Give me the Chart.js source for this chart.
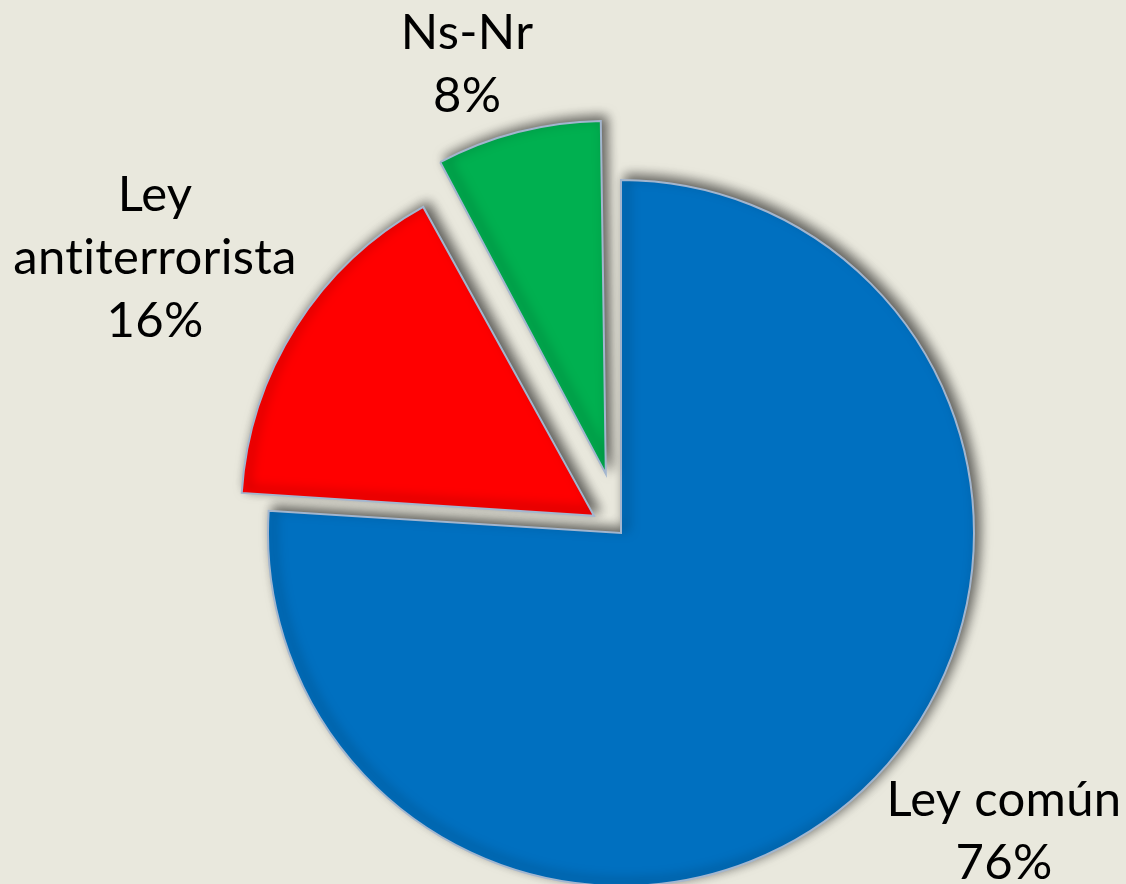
<!DOCTYPE html>
<html>
<head>
<meta charset="utf-8">
<title>Tipo de ley</title>
<script src="https://cdn.jsdelivr.net/npm/chart.js@4/dist/chart.umd.min.js"></script>
<style>
  html, body { margin: 0; padding: 0; background: #e9e8dd; }
  #wrap { width: 1126px; height: 884px; }
</style>
</head>
<body>
<div id="wrap"><canvas id="myChart" width="1126" height="884"></canvas></div>
<script>
// slices, clockwise from 12 o'clock
const categories = ['Ley común', 'Ley antiterrorista', 'Ns-Nr'];
const values = [76, 16, 8];
const sliceColors = ['#0070c0', '#ff0000', '#00b050'];
// chart.js moves an arc by offset/4, so these are 4x the pull-out in px
const explode = [0, 128, 244];

// where each label block sits, as a fraction of the radius from the pie centre
const labelSpots = [
  { fx: 1.085, fy: 0.891 },
  { fx: -1.320, fy: -0.734 },
  { fx: -0.436, fy: -1.283 }
];

const total = values.reduce((a, b) => a + b, 0);

// chart.js also grows exploded arcs a bit; keep every slice the same size
const keepRadius = {
  id: 'keepRadius',
  beforeDatasetsDraw(chart) {
    const meta = chart.getDatasetMeta(0);
    const R = meta.controller.outerRadius;
    meta.data.forEach((arc, i) => {
      const circ = arc.endAngle - arc.startAngle;
      const fix = 1 - Math.sin(Math.min(Math.PI, circ));
      arc.outerRadius = R - (explode[i] / 4) * fix;
    });
  }
};

// soft drop shadow behind the slices (up and to the right, like the original)
const shadowPlugin = {
  id: 'sliceShadow',
  beforeDatasetsDraw(chart) {
    const ctx = chart.ctx;
    ctx.save();
    ctx.shadowColor = 'rgba(0,0,0,0.6)';
    ctx.shadowBlur = 12;
    ctx.shadowOffsetX = 5;
    ctx.shadowOffsetY = -4;
  },
  afterDatasetsDraw(chart) {
    chart.ctx.restore();
  }
};

// category + percent written next to each slice, wrapped like powerpoint does
const labelPlugin = {
  id: 'sliceLabels',
  afterDraw(chart) {
    const ctx = chart.ctx;
    const meta = chart.getDatasetMeta(0);
    const r = meta.controller.outerRadius;
    ctx.save();
    ctx.font = '49px Lato';
    if ('letterSpacing' in ctx) ctx.letterSpacing = '0.3px';
    if ('textRendering' in ctx) ctx.textRendering = 'optimizeSpeed';
    ctx.fillStyle = '#000000';
    ctx.textAlign = 'center';
    ctx.textBaseline = 'alphabetic';
    const lineH = 63;
    meta.data.forEach((arc, i) => {
      const words = categories[i].split(' ');
      const lines = [];
      let cur = '';
      words.forEach(w => {
        const test = cur ? cur + ' ' + w : w;
        if (cur && ctx.measureText(test).width > 320) {
          lines.push(cur);
          cur = w;
        } else {
          cur = test;
        }
      });
      lines.push(cur);
      lines.push(Math.round(values[i] / total * 100) + '%');

      const cx = arc.x + labelSpots[i].fx * r;
      const cy = arc.y + labelSpots[i].fy * r;
      const first = cy - (lines.length - 1) / 2 * lineH;
      lines.forEach((t, k) => ctx.fillText(t, cx, first + k * lineH));
    });
    ctx.restore();
  }
};

const ctx = document.getElementById('myChart').getContext('2d');
const myChart = new Chart(ctx, {
  type: 'pie',
  data: {
    labels: categories,
    datasets: [{
      data: values,
      backgroundColor: sliceColors,
      borderColor: '#a3b6cf',
      borderWidth: 2,
      borderJoinStyle: 'miter',
      offset: explode,
      clip: false
    }]
  },
  options: {
    responsive: false,
    animation: false,
    events: [],
    radius: 353,
    layout: { padding: { left: 116, right: 0, top: 182, bottom: 0 } },
    plugins: {
      legend: { display: false },
      tooltip: { enabled: false }
    }
  },
  plugins: [keepRadius, shadowPlugin, labelPlugin]
});
</script>
</body>
</html>
